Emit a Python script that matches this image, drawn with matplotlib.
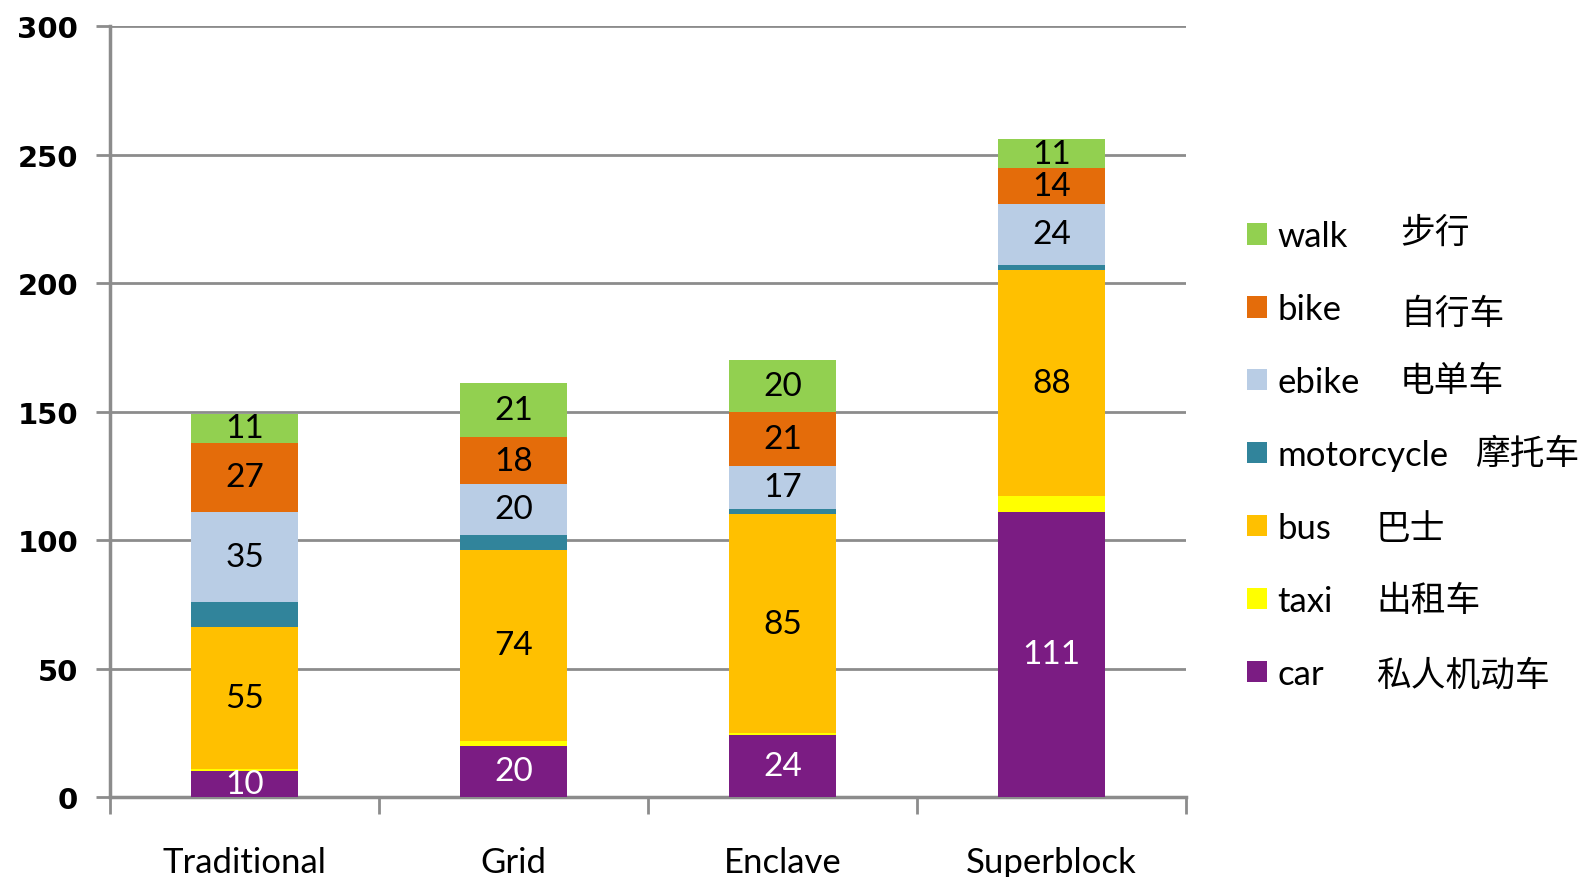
import matplotlib
matplotlib.use('Agg')
import matplotlib.pyplot as plt
import numpy as np
from matplotlib.patches import Patch

plt.rcParams['font.family'] = ['Lato', 'DejaVu Sans']

categories = ['Traditional', 'Grid', 'Enclave', 'Superblock']
modes = ['car', 'taxi', 'bus', 'motorcycle', 'ebike', 'bike', 'walk']
modes_cn = ['私人机动车', '出租车', '巴士', '摩托车', '电单车', '自行车', '步行']
car = [10, 20, 24, 111]
taxi = [1, 2, 1, 6]
bus = [55, 74, 85, 88]
motorcycle = [10, 6, 2, 2]
ebike = [35, 20, 17, 24]
bike = [27, 18, 21, 14]
walk = [11, 21, 20, 11]
# which segments carry a number label
labelled = ['car', 'bus', 'ebike', 'bike', 'walk']
colors = {'car': '#7B1C83', 'taxi': '#FFFF00', 'bus': '#FFC000', 'motorcycle': '#31849B',
          'ebike': '#B9CDE5', 'bike': '#E46C0A', 'walk': '#92D050'}

series = {'car': car, 'taxi': taxi, 'bus': bus, 'motorcycle': motorcycle,
          'ebike': ebike, 'bike': bike, 'walk': walk}

fig = plt.figure(figsize=(15.94, 8.78), dpi=100)
ax = fig.add_axes([0.069, 0.0911, 0.675, 0.8777])

x = np.arange(len(categories))
bottom = np.zeros(len(categories))
for m in modes:
    vals = np.array(series[m], dtype=float)
    ax.bar(x, vals, 0.4, bottom=bottom, color=colors[m], zorder=3, label=m)
    if m in labelled:
        for xi, v, b in zip(x, vals, bottom):
            ax.text(xi, b + v / 2, str(int(v)), ha='center', va='center', fontsize=24,
                    color='white' if m == 'car' else 'black', zorder=4)
    bottom += vals

ax.set_xlim(-0.5, 3.5)
ax.set_ylim(0, 300)
ax.set_yticks(np.arange(0, 301, 50))
ax.yaxis.grid(True, color='#8C8C8C', linewidth=2.0, zorder=0)
ax.set_xticks(x)
ax.set_xticklabels(categories, fontsize=25)
ax.set_xticks(np.arange(-0.5, 3.6, 1), minor=True)
ax.tick_params(axis='x', which='major', length=0, pad=35)
ax.tick_params(axis='x', which='minor', length=12, width=2, color='#8C8C8C', direction='out')
ax.tick_params(axis='y', length=10, width=2, color='#8C8C8C', direction='out', pad=13)
for lab in ax.get_yticklabels():
    lab.set_fontsize(21)
    lab.set_fontweight('bold')
    lab.set_family('DejaVu Sans')
for s in ['top', 'right']:
    ax.spines[s].set_visible(False)
for s in ['left', 'bottom']:
    ax.spines[s].set_color('#8C8C8C')
    ax.spines[s].set_linewidth(2.5)

handles = [Patch(facecolor=colors[m]) for m in modes[::-1]]
fig.legend(handles, modes[::-1], loc='upper left', bbox_to_anchor=(1247 / 1594, 1 - 221 / 878),
           frameon=False, fontsize=25, handlelength=0.58, handleheight=0.58,
           handletextpad=0.3, labelspacing=1.18, borderpad=0, borderaxespad=0)

# Chinese labels next to the legend rows
cn_x = [1376, 1376, 1376, 1476, 1400, 1400, 1400]
cn_y = [676, 602, 529, 454, 382, 314, 233]
for t, cx, cy in zip(modes_cn, cn_x, cn_y):
    fig.text(cx / 1594, 1 - cy / 878, t, fontsize=25, va='center', ha='left',
             family=['Noto Sans CJK SC', 'DejaVu Sans'])

fig.savefig('out.png', dpi=100)
